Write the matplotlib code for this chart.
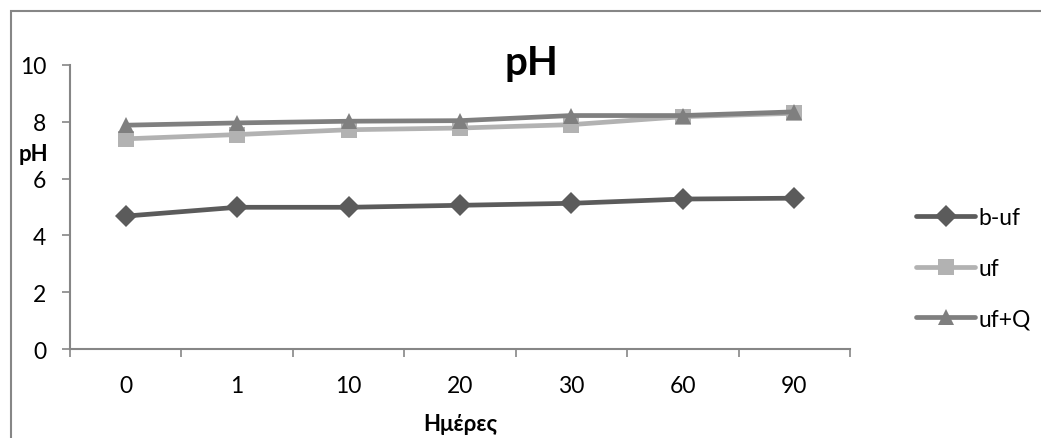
import matplotlib

matplotlib.use("Agg")
import matplotlib.pyplot as plt
from matplotlib.patches import Rectangle

# pH measurements over storage time
days = ["0", "1", "10", "20", "30", "60", "90"]
ph_b_uf = [4.68, 4.99, 4.99, 5.06, 5.13, 5.28, 5.31]
ph_uf = [7.40, 7.55, 7.72, 7.78, 7.90, 8.18, 8.30]
ph_uf_q = [7.88, 7.96, 8.02, 8.04, 8.22, 8.22, 8.35]

series_names = ["b-uf", "uf", "uf+Q"]

plt.rcParams["font.family"] = ["Lato", "DejaVu Sans"]

axis_gray = "#868686"
fig = plt.figure(figsize=(10.41, 4.39), dpi=100)
ax = fig.add_axes([0.0672, 0.2027, 0.7493, 0.647])

x = range(len(days))
styles = [
	dict(color="#5b5b5b", marker="D", markersize=11),
	dict(color="#b2b2b2", marker="s", markersize=11),
	dict(color="#7f7f7f", marker="^", markersize=12),
]
for values, name, style in zip([ph_b_uf, ph_uf, ph_uf_q], series_names, styles):
	ax.plot(
		x,
		values,
		label=name,
		linewidth=3.4,
		markeredgewidth=0,
		solid_capstyle="round",
		**style,
	)

ax.set_xlim(-0.5, len(days) - 0.5)
ax.set_ylim(0, 10)
ax.set_yticks(range(0, 11, 2))
ax.set_xticks(list(x))
ax.set_xticklabels(days)
ax.set_xticks([i - 0.5 for i in range(len(days) + 1)], minor=True)
ax.tick_params(axis="x", which="major", length=0, pad=19, labelsize=16.5)
ax.tick_params(axis="x", which="minor", length=6, width=1.2, color=axis_gray, direction="out")
ax.tick_params(axis="y", length=6, width=1.2, color=axis_gray, labelsize=16.5, pad=11)

for side in ("top", "right"):
	ax.spines[side].set_visible(False)
for side in ("left", "bottom"):
	ax.spines[side].set_color(axis_gray)
	ax.spines[side].set_linewidth(1.5)

fig.text(531 / 1041, 1 - 75 / 439, "pH", fontsize=29, fontweight="bold",
	ha="center", va="baseline")
ax.set_ylabel("pH", fontsize=16, fontweight="bold", rotation=0, ha="center", va="center")
ax.yaxis.set_label_coords(-0.047, 0.687)
ax.set_xlabel("Ημέρες", fontsize=16, fontweight="bold", labelpad=12)

ax.legend(
	loc="center left",
	bbox_to_anchor=(1.058, 0.285),
	frameon=False,
	fontsize=16.5,
	handlelength=2.6,
	handletextpad=0.15,
	labelspacing=1.3,
)

# chart area border, running off the right and bottom edges
fig.patches.append(
	Rectangle(
		(11 / 1041, -0.1),
		1.2,
		1.1 - 12 / 439,
		transform=fig.transFigure,
		fill=False,
		edgecolor=axis_gray,
		linewidth=1.5,
	)
)

fig.savefig("out.png", dpi=100)
